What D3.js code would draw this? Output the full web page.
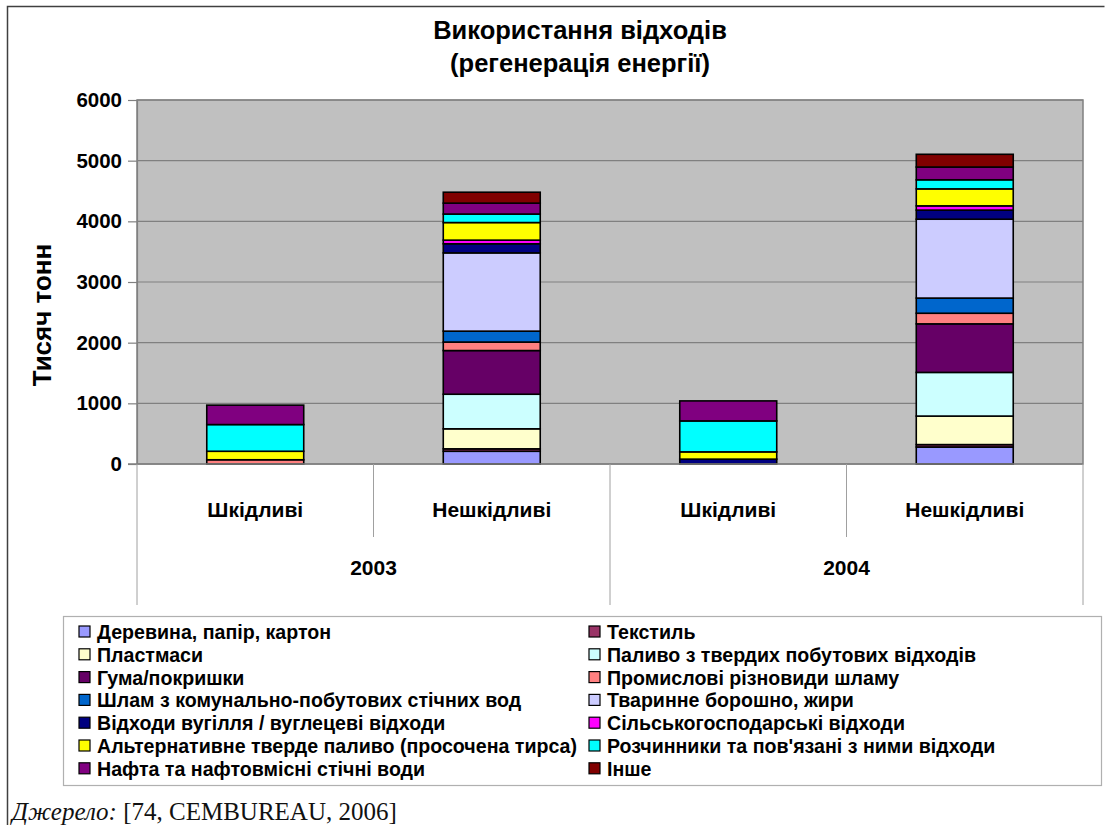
<!DOCTYPE html>
<html>
<head>
<meta charset="utf-8">
<script src="https://cdn.jsdelivr.net/npm/d3@7"></script>
<style>
  html, body { margin: 0; padding: 0; background: #fff; }
  svg { display: block; font-family: "Liberation Sans", Arial, sans-serif; }
</style>
</head>
<body>
<svg id="chart" width="1105" height="825"></svg>
<script>
// Sub-categories along the x axis, grouped by year
const subCategories = ["Шкідливі", "Нешкідливі", "Шкідливі", "Нешкідливі"];
const years = ["2003", "2004"];
const yTicks = [0, 1000, 2000, 3000, 4000, 5000, 6000];

// Waste streams (stack order, bottom to top) and their fills
const seriesNames = [
  "Деревина, папір, картон",
  "Текстиль",
  "Пластмаси",
  "Паливо з твердих побутових відходів",
  "Гума/покришки",
  "Промислові різновиди шламу",
  "Шлам з комунально-побутових стічних вод",
  "Тваринне борошно, жири",
  "Відходи вугілля / вуглецеві відходи",
  "Сільськогосподарські відходи",
  "Альтернативне тверде паливо (просочена тирса)",
  "Розчинники та пов'язані з ними відходи",
  "Нафта та нафтовмісні стічні води",
  "Інше"
];
const seriesColors = [
  "#9999FF", "#993366", "#FFFFCC", "#CCFFFF", "#660066", "#FF8080", "#0066CC",
  "#CCCCFF", "#000080", "#FF00FF", "#FFFF00", "#00FFFF", "#800080", "#800000"
];

// Thousand tonnes per column: [2003 Шкідливі, 2003 Нешкідливі, 2004 Шкідливі, 2004 Нешкідливі]
const woodPaper     = [0, 210, 0, 280];
const textiles      = [0, 40, 0, 40];
const plastics      = [0, 330, 0, 470];
const msFuel        = [0, 570, 0, 720];
const rubberTyres   = [0, 720, 0, 800];
const industSludge  = [70, 140, 0, 175];
const sewageSludge  = [0, 180, 0, 250];
const animalMeal    = [0, 1290, 0, 1300];
const coalWaste     = [0, 150, 80, 150];
const agriWaste     = [0, 60, 0, 70];
const altSolidFuel  = [140, 290, 120, 280];
const solvents      = [440, 140, 510, 150];
const oilWater      = [320, 180, 330, 210];
const other         = [0, 180, 0, 210];

const seriesValues = [woodPaper, textiles, plastics, msFuel, rubberTyres, industSludge,
  sewageSludge, animalMeal, coalWaste, agriWaste, altSolidFuel, solvents, oilWater, other];

// Table for d3.stack: one row per column of the chart
const rows = subCategories.map((c, i) => {
  const r = { key: i };
  seriesNames.forEach((s, k) => { r[s] = seriesValues[k][i]; });
  return r;
});

const svg = d3.select("#chart");
const plot = { left: 137, right: 1083, top: 100, bottom: 464 };

// Outer frame
svg.append("path")
  .attr("d", "M7.5,825 V6.5 H1104.5")
  .attr("fill", "none").attr("stroke", "#404040").attr("stroke-width", 1.5);

// Title
const title = svg.append("text")
  .attr("x", 580).attr("text-anchor", "middle")
  .attr("font-weight", "bold").attr("font-size", 25.5).attr("fill", "#000");
title.append("tspan").attr("x", 580).attr("y", 39).text("Використання відходів");
title.append("tspan").attr("x", 580).attr("y", 72).text("(регенерація енергії)");

const x = d3.scaleBand().domain(d3.range(subCategories.length))
  .range([plot.left, plot.right]).paddingInner(0).paddingOuter(0);
const barW = x.bandwidth() * 0.41;
const y = d3.scaleLinear().domain([0, 6000]).range([plot.bottom, plot.top]);

// Plot background
svg.append("rect")
  .attr("x", plot.left).attr("y", plot.top)
  .attr("width", plot.right - plot.left).attr("height", plot.bottom - plot.top)
  .attr("fill", "#C0C0C0").attr("stroke", "#808080").attr("stroke-width", 1.5);

// Horizontal gridlines
svg.append("g").selectAll("line").data(yTicks.filter(t => t > 0)).join("line")
  .attr("x1", plot.left).attr("x2", plot.right)
  .attr("y1", d => y(d)).attr("y2", d => y(d))
  .attr("stroke", "#808080").attr("stroke-width", 1.2);

// Y axis
const yAxis = svg.append("g")
  .attr("transform", `translate(${plot.left},0)`)
  .call(d3.axisLeft(y).tickValues(yTicks).tickSize(9).tickPadding(6).tickFormat(d3.format("d")));
yAxis.select(".domain").attr("stroke", "#808080").attr("stroke-width", 1.2);
yAxis.selectAll(".tick line").attr("stroke", "#808080").attr("stroke-width", 1.2);
yAxis.selectAll(".tick text")
  .attr("font-family", "Liberation Sans, Arial, sans-serif")
  .attr("font-size", 20.5).attr("font-weight", "bold").attr("fill", "#000");

svg.append("text")
  .attr("transform", `translate(51,315) rotate(-90)`)
  .attr("text-anchor", "middle").attr("font-weight", "bold").attr("font-size", 26)
  .text("Тисяч тонн");

// Stacked bars
const stack = d3.stack().keys(seriesNames);
const layers = stack(rows);
svg.append("g").selectAll("g").data(layers).join("g")
  .attr("fill", (d, i) => seriesColors[i])
  .selectAll("rect").data(d => d.filter(p => p[1] - p[0] > 0)).join("rect")
  .attr("x", d => x(d.data.key) + (x.bandwidth() - barW) / 2)
  .attr("width", barW)
  .attr("y", d => y(d[1]))
  .attr("height", d => y(d[0]) - y(d[1]))
  .attr("stroke", "#000").attr("stroke-width", 1.6);

// Baseline
svg.append("line")
  .attr("x1", plot.left - 9).attr("x2", plot.right)
  .attr("y1", plot.bottom).attr("y2", plot.bottom)
  .attr("stroke", "#808080").attr("stroke-width", 1.5);

// Multi-level category axis
const catAxis = svg.append("g");
const nPerYear = subCategories.length / years.length;
d3.range(subCategories.length + 1).forEach(i => {
  const xv = i < subCategories.length ? x(i) : plot.right;
  const outer = i % nPerYear === 0;
  catAxis.append("line")
    .attr("x1", xv).attr("x2", xv)
    .attr("y1", plot.bottom).attr("y2", outer ? 605 : 537)
    .attr("stroke", "#A0A0A0").attr("stroke-width", 1);
});
catAxis.selectAll("text.sub").data(subCategories).join("text")
  .attr("class", "sub")
  .attr("x", (d, i) => x(i) + x.bandwidth() / 2)
  .attr("y", 517).attr("text-anchor", "middle")
  .attr("font-weight", "bold").attr("font-size", 21).text(d => d);
catAxis.selectAll("text.year").data(years).join("text")
  .attr("class", "year")
  .attr("x", (d, i) => x(i * nPerYear) + x.bandwidth() * nPerYear / 2)
  .attr("y", 575).attr("text-anchor", "middle")
  .attr("font-weight", "bold").attr("font-size", 21).text(d => d);

// Legend
const legend = svg.append("g");
legend.append("rect")
  .attr("x", 63.5).attr("y", 616.5).attr("width", 1038).attr("height", 169)
  .attr("fill", "#fff").attr("stroke", "#B0B0B0").attr("stroke-width", 1.2);
const colX = [79, 589];
const rowY0 = 632, rowStep = 22.8;
const items = legend.selectAll("g.item").data(seriesNames).join("g")
  .attr("class", "item")
  .attr("transform", (d, i) => `translate(${colX[i % 2]},${rowY0 + Math.floor(i / 2) * rowStep})`);
items.append("rect")
  .attr("x", 0).attr("y", -6).attr("width", 11).attr("height", 11)
  .attr("fill", (d, i) => seriesColors[i]).attr("stroke", "#000").attr("stroke-width", 1.2);
items.append("text")
  .attr("x", 18).attr("y", 7)
  .attr("font-weight", "bold").attr("font-size", 19.6).text(d => d);

// Source line
const src = svg.append("text")
  .attr("x", 12).attr("y", 820)
  .attr("font-family", "Liberation Serif, Times New Roman, serif")
  .attr("font-size", 25).attr("fill", "#111");
src.append("tspan").attr("font-style", "italic").text("Джерело:");
src.append("tspan").text(" [74, CEMBUREAU, 2006]");
</script>
</body>
</html>
